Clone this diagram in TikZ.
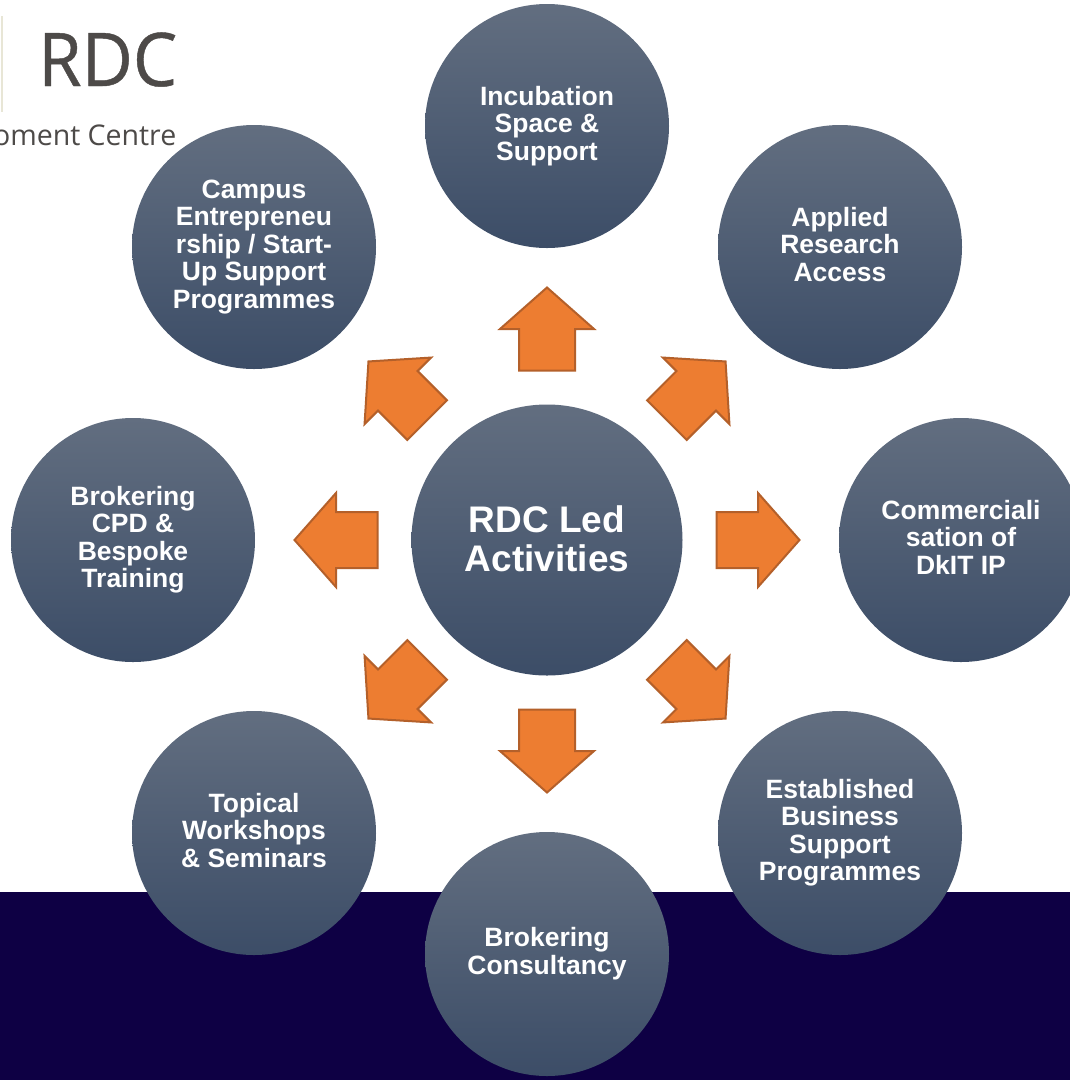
\documentclass[tikz,border=0pt]{standalone}
\usepackage{fontspec}
\setmainfont{Liberation Sans}
\newfontfamily\logofont[FakeBold=0.6,FakeStretch=0.95]{Open Sans}
\newfontfamily\logosmall{Open Sans}
\definecolor{bandc}{HTML}{0E0044}
\definecolor{discTop}{HTML}{626E80}
\definecolor{discMid}{HTML}{485971}
\definecolor{discBot}{HTML}{3C4D67}
\definecolor{arrowFill}{HTML}{ED7D31}
\definecolor{arrowLine}{HTML}{B4602A}
\definecolor{logoText}{HTML}{4D4A48}
\definecolor{logoRule}{HTML}{E8E6D6}
\tikzset{
  x=1pt,y=-1pt,
  discbase/.style={circle,minimum size=244pt,inner sep=0pt,top color=discTop,middle color=discMid,bottom color=discBot,text=white,align=center},
  disc/.style={discbase,font=\fontsize{26.5}{27.5}\selectfont\bfseries,
    execute at begin node={\rule{0pt}{25pt}},execute at end node={\rule[-6pt]{0pt}{6pt}}},
  hubdisc/.style={discbase,minimum size=271pt,font=\fontsize{37}{39}\selectfont\bfseries,
    execute at end node={\rule[-2pt]{0pt}{2pt}}},
  blockarrow/.style={fill=arrowFill,draw=arrowLine,line width=2pt,line join=miter,miter limit=10},
}
\begin{document}
\begin{tikzpicture}
\useasboundingbox (0,0) rectangle (1070,1080);
\fill[white] (0,0) rectangle (1070,1080);
\fill[bandc] (0,892) rectangle (1070,1080);
% logo
\fill[logoRule] (1,16) rectangle (3,112);
\begin{scope}
\clip (0,0) rectangle (178,120);
\node[anchor=base west,inner sep=0pt,text=logoText,font=\logofont\fontsize{74}{74}\selectfont] (logoA) at (38,86) {RDC};
\end{scope}
\node[anchor=base east,inner sep=0pt,text=logoText,font=\logosmall\fontsize{28.5}{29}\selectfont] (logoB) at (176.5,145) {oment Centre};
% arrows
\foreach \a in {0,45,...,315}{
  \begin{scope}[shift={(547,540)},rotate=\a]
    \draw[blockarrow] (0,-252.5) -- (47,-211) -- (28,-211) -- (28,-169.5) -- (-28,-169.5) -- (-28,-211) -- (-47,-211) -- cycle;
  \end{scope}
}
% discs
\node[hubdisc] (hub) at (547,540) {RDC Led\\Activities};
\node[disc] (inc) at (547,126) {Incubation\\Space \&\\Support};
\node[disc] (app) at (840,247) {Applied\\Research\\Access};
\node[disc] (com) at (961,540) {Commerciali\\sation of\\DkIT IP};
\node[disc] (est) at (840,833) {Established\\Business\\Support\\Programmes};
\node[disc] (con) at (547,954) {Brokering\\Consultancy};
\node[disc] (top) at (254,833) {Topical\\Workshops\\\& Seminars};
\node[disc] (cpd) at (133,540) {Brokering\\CPD \&\\Bespoke\\Training};
\node[disc] (cam) at (254,247) {Campus\\Entrepreneu\\rship / Start-\\Up Support\\Programmes};
\end{tikzpicture}
\end{document}
